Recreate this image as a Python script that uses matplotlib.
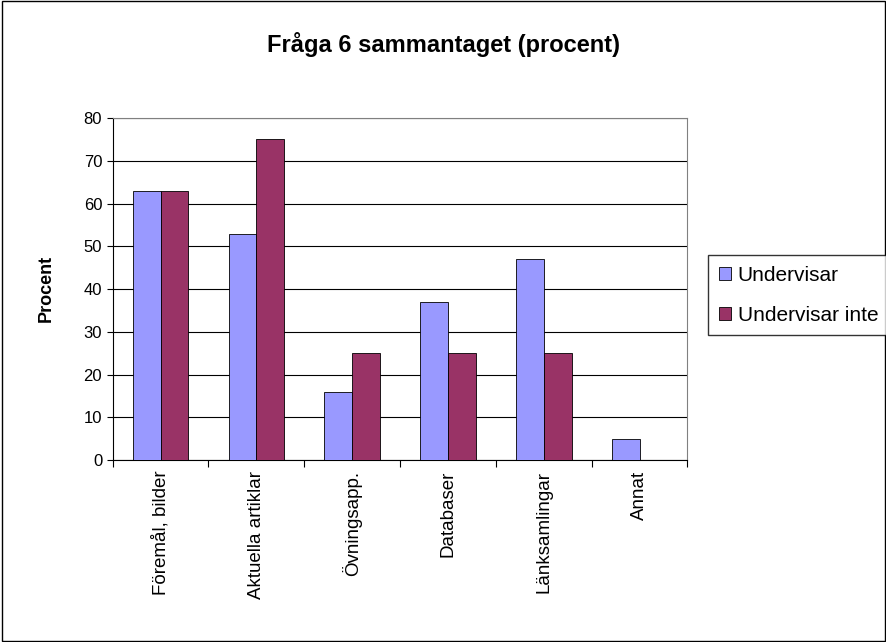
import matplotlib
matplotlib.use("Agg")
import matplotlib.pyplot as plt
import numpy as np

plt.rcParams['font.family'] = ['Liberation Sans', 'DejaVu Sans']

categories = ["Föremål, bilder", "Aktuella artiklar", "Övningsapp.", "Databaser", "Länksamlingar", "Annat"]
undervisar = [63, 53, 16, 37, 47, 5]
undervisar_inte = [63, 75, 25, 25, 25, 0]
yticks = [0, 10, 20, 30, 40, 50, 60, 70, 80]

fig = plt.figure(figsize=(8.87, 6.42), dpi=100)
fig.patch.set_facecolor('white')
fig.add_artist(plt.Rectangle((0.002, 0.002), 0.996, 0.996, transform=fig.transFigure,
                             fill=False, edgecolor='black', linewidth=1))

ax = fig.add_axes([0.127, 0.2835, 0.648, 0.5325])
x = np.arange(len(categories))
w = 0.29
ax.bar(x - w/2, undervisar, w, color='#9999FF', edgecolor='black', linewidth=0.6, label='Undervisar', zorder=3)
ax.bar(x + w/2, undervisar_inte, w, color='#993366', edgecolor='black', linewidth=0.6, label='Undervisar inte', zorder=3)

ax.set_xlim(-0.5, len(categories) - 0.5)
ax.set_ylim(0, 80)
ax.set_yticks(yticks)
ax.tick_params(axis='y', labelsize=12, length=4, direction='out')
ax.yaxis.grid(True, color='black', linewidth=0.8, zorder=0)
ax.set_axisbelow(True)
for s in ['top', 'right']:
    ax.spines[s].set_color('#808080')
for s in ['left', 'bottom']:
    ax.spines[s].set_color('black')

ax.set_xticks(np.arange(len(categories) + 1) - 0.5)
ax.set_xticklabels([])
ax.tick_params(axis='x', length=5, direction='out')

for i, lab in enumerate(categories):
    ax.text(i, -2.5, lab, rotation=90, ha='center', va='top', fontsize=13.5,
            transform=ax.transData)

fig.text(0.052, 0.55, "Procent", rotation=90, ha='center', va='center',
         fontsize=13, fontweight='bold')

fig.text(0.5, 0.93, "Fråga 6 sammantaget (procent)", ha='center', va='center',
         fontsize=17, fontweight='bold')

leg = fig.legend(loc='center left', bbox_to_anchor=(0.787, 0.54), fontsize=15,
                 frameon=True, fancybox=False, edgecolor='black', handlelength=0.6,
                 handleheight=0.6, borderpad=0.5, labelspacing=1.0, handletextpad=0.3)
leg.get_frame().set_linewidth(1)

fig.savefig("out.png", dpi=100)
